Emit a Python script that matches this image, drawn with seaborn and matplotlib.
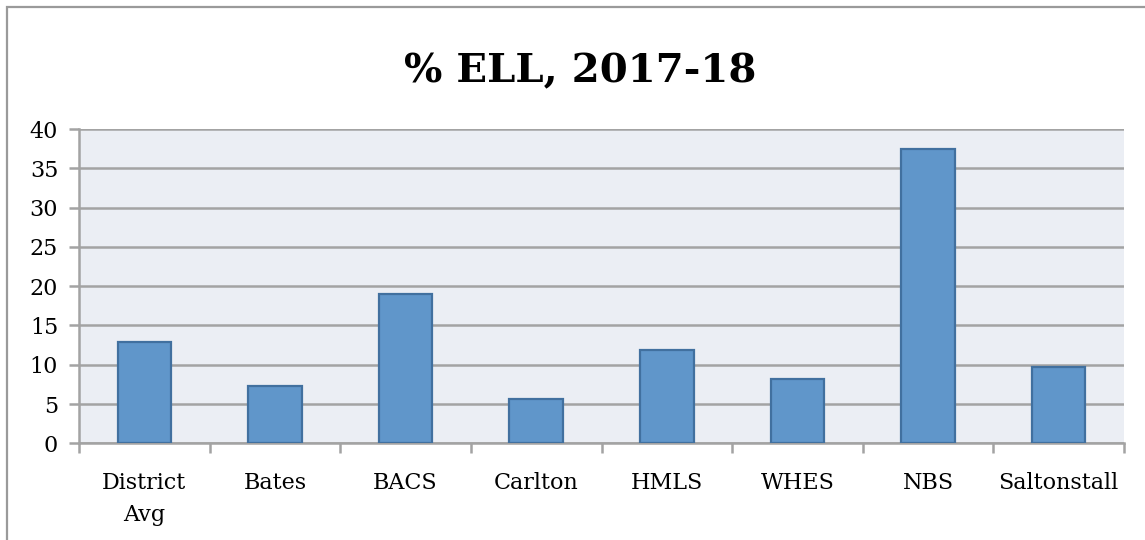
import pandas as pd
import matplotlib.pyplot as plt
import seaborn as sns
from matplotlib.patches import Rectangle

# Datos
schools = ["District\nAvg", "Bates", "BACS", "Carlton", "HMLS", "WHES", "NBS", "Saltonstall"]
ell_pct = [12.85, 7.3, 18.95, 5.7, 11.85, 8.15, 37.4, 9.7]
yticks = [0, 5, 10, 15, 20, 25, 30, 35, 40]

df = pd.DataFrame({"School": schools, "ELL": ell_pct})

sns.set_style("white")
plt.rcParams["font.family"] = ["DejaVu Serif"]
plt.rcParams["text.color"] = "black"
plt.rcParams["xtick.color"] = "#A3A3A3"
plt.rcParams["ytick.color"] = "#A3A3A3"
plt.rcParams["xtick.labelcolor"] = "black"
plt.rcParams["ytick.labelcolor"] = "black"

fig = plt.figure(figsize=(11.45, 5.4), dpi=100)
ax = fig.add_axes([79 / 1145, 1 - 443.3 / 540, (1124 - 79) / 1145, (443.3 - 129) / 540])

sns.barplot(data=df, x="School", y="ELL", ax=ax, color="#6096CA", saturation=1,
            width=0.41, edgecolor="#41709F", linewidth=1.6, zorder=3)

ax.set_facecolor("#EBEEF4")
ax.set_ylim(0, 40)
ax.set_xlim(-0.5, len(schools) - 0.5)
ax.set_yticks(yticks)
ax.set_yticklabels([str(t) for t in yticks], fontsize=16)
ax.yaxis.grid(True, color="#A3A3A3", linewidth=1.8, zorder=1)
ax.set_axisbelow(True)

ax.set_xticks(range(len(schools)))
ax.set_xticklabels(schools, fontsize=16, linespacing=1.55)
ax.set_xticks([i - 0.5 for i in range(len(schools) + 1)], minor=True)
ax.tick_params(axis="x", which="major", bottom=True, length=0, pad=21)
ax.tick_params(axis="x", which="minor", bottom=True, length=7, width=1.8, color="#A3A3A3", direction="out")
ax.tick_params(axis="y", left=True, length=7, width=1.8, color="#A3A3A3", direction="out", pad=8)

for side in ["top", "right"]:
    ax.spines[side].set_visible(False)
for side in ["left", "bottom"]:
    ax.spines[side].set_color("#A3A3A3")
    ax.spines[side].set_linewidth(1.8)

ax.set_xlabel("")
ax.set_ylabel("")

fig.text(0.507, 0.868, "% ELL, 2017-18", ha="center", va="center",
         fontsize=29, fontweight="bold", color="black")

# Marco exterior
fig.patches.append(Rectangle((7 / 1145, -0.1), 1.2, 1.1 - 7.5 / 540, transform=fig.transFigure,
                             fill=False, edgecolor="#9A9A9A", linewidth=1.6))

plt.savefig("out.png", dpi=100)
